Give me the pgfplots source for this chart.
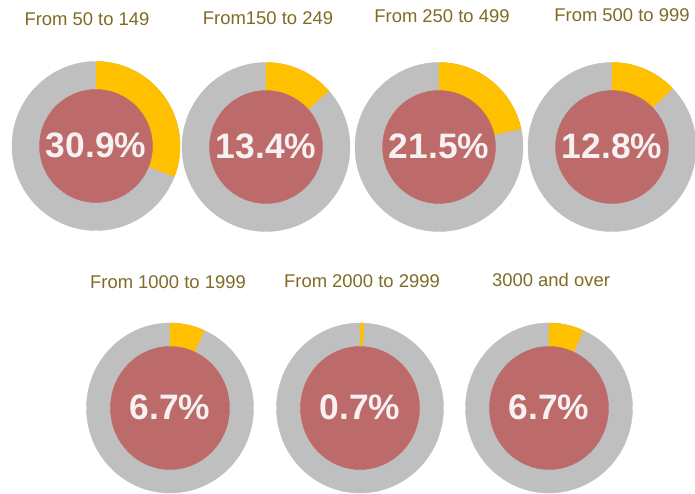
\documentclass[border=0pt]{standalone}
\usepackage{fontspec}
\setmainfont{Liberation Sans}
\usepackage{pgfplots}
\usepackage{pgfplotstable}
\pgfplotsset{compat=1.18}

\definecolor{ringgrey}{HTML}{BFBFBF}
\definecolor{gold}{HTML}{FFC000}
\definecolor{core}{HTML}{BD6A6B}
\definecolor{titlecol}{HTML}{7F6B24}
\definecolor{numcol}{HTML}{F8F1F1}

% x y (pixel centre of each donut) and share in percent
\pgfplotstableread{
x   y   pct
96  146 30.9
266 147 13.4
439 147 21.5
612 147 12.8
}\toprow
\pgfplotstableread{
x   y   pct
170 408 6.7
360 408 0.7
549 408 6.7
}\bottomrow

% donut drawn at each data point; ring radii #1,#2 and core radii #3,#4
\pgfplotsset{
  donut/.style n args={4}{
    scatter, only marks, mark=*, mark size=0pt,
    point meta=explicit symbolic,
    scatter/@pre marker code/.code={%
      \begin{scope}
      \pgfmathsetmacro\ang{3.6*\pgfplotspointmeta}
      \fill[ringgrey] (0,0) ellipse[x radius=#1, y radius=#2];
      \fill[gold] (0,0) -- (0,#2)
        arc[start angle=90, end angle=90-\ang, x radius=#1, y radius=#2] -- cycle;
      \fill[core] (0,0) ellipse[x radius=#3, y radius=#4];
      \node[text=numcol, font=\fontsize{35.5}{40}\selectfont\bfseries,
            inner sep=0pt] at (0,1bp) {\pgfplotspointmeta\%};
    },
    scatter/@post marker code/.code={\end{scope}},
  },
}

\begin{document}
\begin{tikzpicture}
\begin{axis}[
  width=695bp, height=494bp, scale only axis,
  xmin=0, xmax=695, ymin=0, ymax=494, y dir=reverse,
  axis lines=none, clip=false,
]
\addplot[donut={84bp}{84.5bp}{56.5bp}{56.5bp}] table[x=x, y=y, meta=pct] {\toprow};
\addplot[donut={83.5bp}{85bp}{59.5bp}{61.5bp}] table[x=x, y=y, meta=pct] {\bottomrow};

\tikzset{ttl/.style={text=titlecol, font=\fontsize{18.5}{22}\selectfont, inner sep=0pt}}
\node[ttl] at (axis cs:87,19)  {From 50 to 149};
\node[ttl] at (axis cs:268,18) {From150 to 249};
\node[ttl] at (axis cs:442,16) {From 250 to 499};
\node[ttl] at (axis cs:622,15) {From 500 to 999};
\node[ttl] at (axis cs:168,282) {From 1000 to 1999};
\node[ttl] at (axis cs:362,281) {From 2000 to 2999};
\node[ttl] at (axis cs:551,280) {3000 and over};
\end{axis}
\pgfresetboundingbox
\path (current axis.south west) rectangle (current axis.north east);
\end{tikzpicture}
\end{document}
